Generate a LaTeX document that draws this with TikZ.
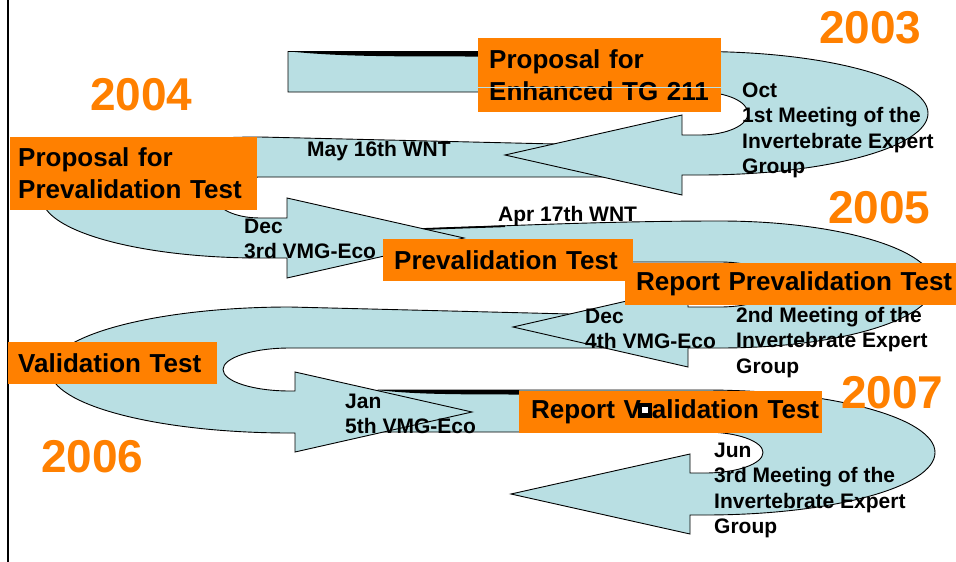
\documentclass[tikz,border=0pt]{standalone}
\usepackage{fontspec}
\setmainfont{Liberation Sans}
\usepackage{tikz}
\definecolor{orangebox}{HTML}{FF8000}
\definecolor{bandblue}{HTML}{B9DFE3}
\newcommand{\vglitch}{\kern-3pt\rlap{\rule[0.7pt]{14pt}{15pt}}\kern4pt{\color{white}\rule[5.5pt]{6pt}{6pt}}\kern4pt}

\begin{document}
\begin{tikzpicture}[x=1pt, y=-1pt,
    band/.style={draw=black, line width=0.9pt, fill=bandblue},
    tbox/.style={fill=orangebox, anchor=north west, align=left, inner ysep=0pt,
        execute at begin node={\hyphenpenalty=10000\exhyphenpenalty=10000},
        font=\bfseries\fontsize{26}{32}\selectfont},
    note/.style={anchor=base west, align=left, inner sep=0pt,
        font=\bfseries\fontsize{21}{25.5}\selectfont},
    year/.style={anchor=base west, inner sep=0pt, text=orangebox,
        font=\bfseries\fontsize{46}{50}\selectfont}]
    \useasboundingbox (0,0) rectangle (956,562);
    \draw[line width=2.2pt]
(8,0) --
(8,562);
    \draw[band]
(378,390) --
(705,390) arc[start angle=-90, end angle=90, x radius=230, y radius=62.5] --
(690,515) --
(690,534) --
(511,494) --
(690,454) --
(690,473) --
(705,473) arc[start angle=90, end angle=-90, x radius=58, y radius=20.5] --
(378,432) --
cycle;
    \fill
(378,390) .. controls (410,394) and (450,394.5) .. (519,394.5) --
(519,390) --
cycle;
    \draw[band]
(650,316) --
(290,307) arc[start angle=-90, end angle=-270, x radius=240, y radius=63] --
(295,433) --
(295,452) --
(472,412) --
(295,372) --
(295,391) --
(290,391) arc[start angle=90, end angle=270, x radius=67, y radius=21.5] --
(650,348) --
cycle;
    \draw[band]
(400,230) .. controls (520,225) and (620,221) .. (720,221)
    arc[start angle=-90, end angle=90, x radius=214, y radius=63.5] --
(688,348) --
(688,367) --
(513,327) --
(688,287) --
(688,307) --
(720,307) arc[start angle=90, end angle=-90, x radius=58, y radius=22.5] --
(400,262) --
cycle;
    \draw[line width=1.8pt]
(413,229.4) .. controls (450,228) .. (505,226.2);
    \draw[band]
(640,146) --
(260,137) arc[start angle=-90, end angle=-270, x radius=218, y radius=60.5] --
(287,258) --
(287,278) --
(464,238) --
(287,198) --
(287,218) --
(260,218) arc[start angle=90, end angle=270, x radius=44, y radius=20.5] --
(640,177) --
cycle;
    \draw[band]
(288,51.5) --
(700,51.5) arc[start angle=-90, end angle=90, x radius=228, y radius=61.75] --
(682,175) --
(682,195) --
(505,155) --
(682,115) --
(682,135) --
(700,135) arc[start angle=90, end angle=-90, x radius=48, y radius=21.5] --
(288,92) --
cycle;
    \fill
(290,51.5) .. controls (340,56.5) and (390,56.5) .. (478,56.5) --
(478,51.5) --
cycle;
    \node[tbox, text width=221pt, inner xsep=11pt, minimum height=74pt] (enh) at (478,38) {Proposal for\\Enhanced TG 211};
    \node[tbox, text width=231pt, inner xsep=8pt, minimum height=73pt] (ppt) at (10,137) {Proposal for\\Prevalidation Test};
    \node[tbox, text width=228pt, inner xsep=11pt, minimum height=42pt] (prv) at (383,239) {Prevalidation Test};
    \node[tbox, text width=309pt, inner xsep=11pt, minimum height=42pt] (rpt) at (625,263) {Report~Prevalidation~Test};
    \node[tbox, text width=189pt, inner xsep=10pt, minimum height=42pt] (val) at (8,342) {Validation Test};
    \node[tbox, text width=279pt, inner xsep=12pt, minimum height=42pt] (rvt) at (519,391) {Report~V\vglitch alidation~Test};
    \coordinate (cut) at (0,87);
    \draw[bandblue, line width=0.5pt]
(enh.west |- cut) --
(enh.east |- cut);
    \node[note] (may) at (307,156) {May 16th WNT};
    \node[note] (oct) at (742,173.5) {Oct\\1st Meeting of the\\Invertebrate Expert\\Group};
    \node[note] (apr) at (498,221) {Apr 17th WNT};
    \node[note] (dec3) at (244,258.5) {Dec\\3rd VMG-Eco};
    \node[note] (dec4) at (585,348.5) {Dec\\4th VMG-Eco};
    \node[note] (meet2) at (736,373) {2nd Meeting of the\\Invertebrate Expert\\Group};
    \node[note] (jan) at (345,433.5) {Jan\\5th VMG-Eco};
    \node[note] (jun) at (714,533.5) {Jun\\3rd Meeting of the\\Invertebrate Expert\\Group};
    \node[year] (y2003) at (819,43) {2003};
    \node[year] (y2004) at (90,110) {2004};
    \node[year] (y2005) at (828,223) {2005};
    \node[year] (y2006) at (41,472) {2006};
    \node[year] (y2007) at (841,408) {2007};
\end{tikzpicture}
\end{document}
